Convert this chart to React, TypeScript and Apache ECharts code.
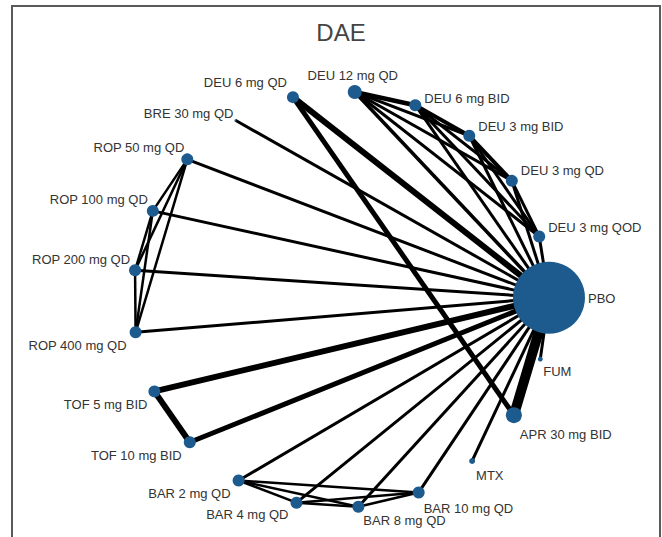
import React, { useEffect, useRef } from "react";
import * as echarts from "echarts";

// Treatments, in order around the circle (counter-clockwise from PBO)
const nodeNames: string[] = [
  "PBO",
  "DEU 3 mg QOD",
  "DEU 3 mg QD",
  "DEU 3 mg BID",
  "DEU 6 mg BID",
  "DEU 12 mg QD",
  "DEU 6 mg QD",
  "BRE 30 mg QD",
  "ROP 50 mg QD",
  "ROP 100 mg QD",
  "ROP 200 mg QD",
  "ROP 400 mg QD",
  "TOF 5 mg BID",
  "TOF 10 mg BID",
  "BAR 2 mg QD",
  "BAR 4 mg QD",
  "BAR 8 mg QD",
  "BAR 10 mg QD",
  "MTX",
  "APR 30 mg BID",
  "FUM",
];

// Relative node weight (symbol diameter)
const nodeWeights: number[] = [72, 12, 12, 12, 12, 14, 12, 2, 12, 12, 12, 12, 12, 12, 12, 12, 12, 12, 6, 16, 5];

// Comparisons: [source, target, number of studies / weight]
const comparisons: [string, string, number][] = [
  ["PBO", "DEU 3 mg QOD", 3],
  ["PBO", "DEU 3 mg QD", 3],
  ["PBO", "DEU 3 mg BID", 3],
  ["PBO", "DEU 6 mg BID", 3],
  ["PBO", "DEU 12 mg QD", 3.5],
  ["PBO", "DEU 6 mg QD", 6],
  ["PBO", "BRE 30 mg QD", 3],
  ["PBO", "ROP 50 mg QD", 3],
  ["PBO", "ROP 100 mg QD", 3],
  ["PBO", "ROP 200 mg QD", 3],
  ["PBO", "ROP 400 mg QD", 3],
  ["PBO", "TOF 5 mg BID", 6],
  ["PBO", "TOF 10 mg BID", 5],
  ["PBO", "BAR 2 mg QD", 3],
  ["PBO", "BAR 4 mg QD", 3],
  ["PBO", "BAR 8 mg QD", 3],
  ["PBO", "BAR 10 mg QD", 3],
  ["PBO", "MTX", 3],
  ["PBO", "APR 30 mg BID", 10],
  ["PBO", "FUM", 3],
  ["DEU 6 mg QD", "APR 30 mg BID", 5],
  ["DEU 12 mg QD", "DEU 6 mg BID", 4.5],
  ["DEU 12 mg QD", "DEU 3 mg BID", 3],
  ["DEU 12 mg QD", "DEU 3 mg QD", 3],
  ["DEU 12 mg QD", "DEU 3 mg QOD", 3],
  ["DEU 6 mg BID", "DEU 3 mg BID", 4],
  ["DEU 6 mg BID", "DEU 3 mg QD", 3],
  ["DEU 6 mg BID", "DEU 3 mg QOD", 3],
  ["DEU 3 mg BID", "DEU 3 mg QD", 4],
  ["DEU 3 mg BID", "DEU 3 mg QOD", 3],
  ["DEU 3 mg QD", "DEU 3 mg QOD", 3],
  ["ROP 50 mg QD", "ROP 100 mg QD", 2.5],
  ["ROP 50 mg QD", "ROP 200 mg QD", 2.5],
  ["ROP 50 mg QD", "ROP 400 mg QD", 2.5],
  ["ROP 100 mg QD", "ROP 200 mg QD", 2.5],
  ["ROP 100 mg QD", "ROP 400 mg QD", 2.5],
  ["ROP 200 mg QD", "ROP 400 mg QD", 2.5],
  ["TOF 5 mg BID", "TOF 10 mg BID", 6],
  ["BAR 2 mg QD", "BAR 4 mg QD", 2.5],
  ["BAR 2 mg QD", "BAR 8 mg QD", 2.5],
  ["BAR 2 mg QD", "BAR 10 mg QD", 2.5],
  ["BAR 4 mg QD", "BAR 8 mg QD", 2.5],
  ["BAR 4 mg QD", "BAR 10 mg QD", 2.5],
  ["BAR 8 mg QD", "BAR 10 mg QD", 2.5],
];

// Label placement (style): [dx, dy, align] relative to node centre
const labelPlacement: Record<string, [number, number, string]> = {
  "PBO": [39, 1, "left"],
  "DEU 3 mg QOD": [9, -9, "left"],
  "DEU 3 mg QD": [9, -10, "left"],
  "DEU 3 mg BID": [9, -9, "left"],
  "DEU 6 mg BID": [9, -7, "left"],
  "DEU 12 mg QD": [-2, -16, "center"],
  "DEU 6 mg QD": [-6, -15, "right"],
  "BRE 30 mg QD": [-2, -7, "right"],
  "ROP 50 mg QD": [-3, -12, "right"],
  "ROP 100 mg QD": [-5, -11, "right"],
  "ROP 200 mg QD": [-5, -11, "right"],
  "ROP 400 mg QD": [-9, 13, "right"],
  "TOF 5 mg BID": [-7, 13, "right"],
  "TOF 10 mg BID": [-8, 13, "right"],
  "BAR 2 mg QD": [-8, 13, "right"],
  "BAR 4 mg QD": [-8, 12, "right"],
  "BAR 8 mg QD": [5, 14, "left"],
  "BAR 10 mg QD": [5, 16, "left"],
  "MTX": [4, 15, "left"],
  "APR 30 mg BID": [6, 19, "left"],
  "FUM": [3, 12, "left"],
};

const FONT = "'Liberation Sans', Arial, sans-serif";
const NODE_COLOR = "#1d5a8e";

export default function App() {
  const ref = useRef<HTMLDivElement>(null);

  useEffect(() => {
    if (!ref.current) return;
    const chart = echarts.init(ref.current, null, { renderer: "svg" });
    const band = 360 / nodeNames.length;

    const nodes = nodeNames.map((name, i) => {
      const p = labelPlacement[name];
      return {
        name,
        value: [1, i],
        symbolSize: nodeWeights[i],
        label: {
          show: true,
          position: "inside",
          align: p[2],
          verticalAlign: "middle",
          offset: [p[0], p[1]],
          color: "#333",
          fontSize: 13,
          fontFamily: FONT,
          textBorderWidth: 0,
          textBorderColor: "transparent",
        },
      };
    });

    const links = comparisons.map(([s, t, w]) => ({
      source: s,
      target: t,
      lineStyle: { width: w },
    }));

    chart.setOption({
      animation: false,
      backgroundColor: "#ffffff",
      polar: { center: [341, 299.5], radius: 208 },
      radiusAxis: { type: "value", min: 0, max: 1, show: false },
      angleAxis: {
        type: "category",
        data: nodeNames,
        boundaryGap: true,
        clockwise: false,
        startAngle: 0.5 - band / 2,
        show: false,
      },
      graphic: [
        {
          type: "polyline",
          shape: { points: [[12, 537], [12, 6], [660, 6], [660, 537]] },
          style: { stroke: "#5a5a5a", lineWidth: 2, fill: "none" },
          silent: true,
        },
        {
          type: "text",
          x: 341,
          y: 32,
          style: {
            text: "DAE",
            fill: "#444",
            fontSize: 24,
            fontFamily: FONT,
            textAlign: "center",
            textVerticalAlign: "middle",
          },
          silent: true,
        },
      ],
      series: [
        {
          type: "graph",
          coordinateSystem: "polar",
          polarIndex: 0,
          symbol: "circle",
          itemStyle: { color: NODE_COLOR },
          lineStyle: { color: "#000", opacity: 1, curveness: 0 },
          emphasis: { disabled: true },
          data: nodes,
          links,
          z: 2,
        },
      ],
    });

    return () => chart.dispose();
  }, []);

  return (
    <div
      ref={ref}
      style={{ position: "absolute", left: 0, top: 0, width: 662, height: 537 }}
    />
  );
}
